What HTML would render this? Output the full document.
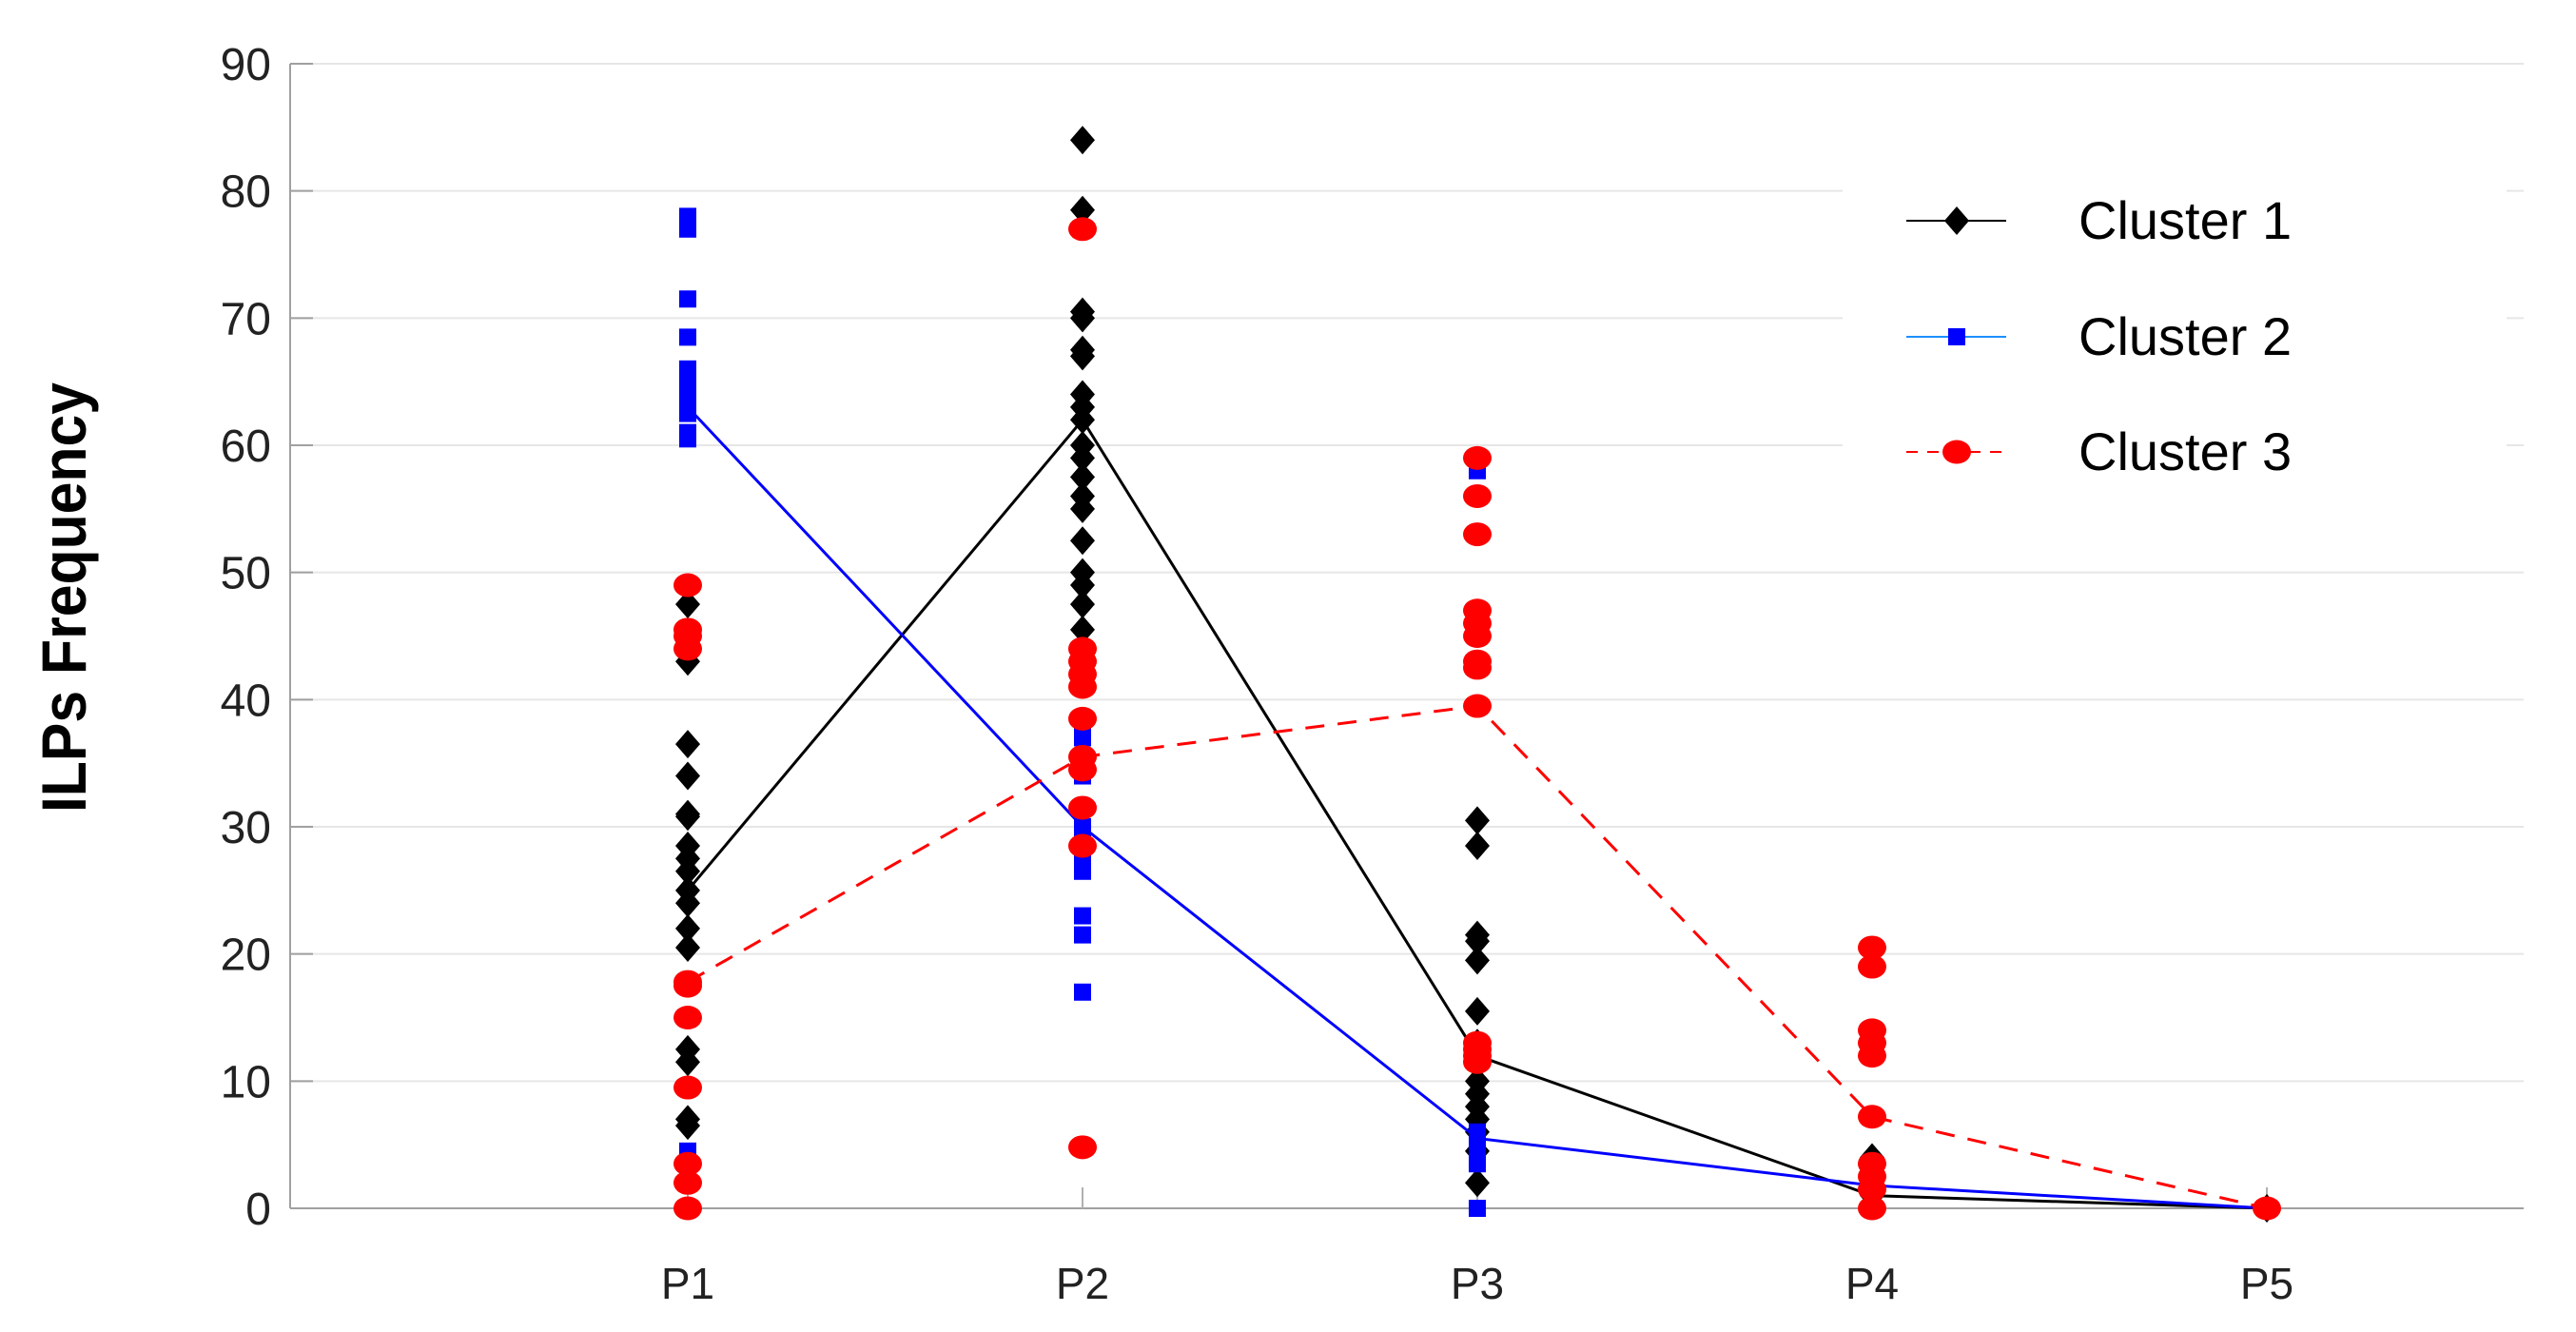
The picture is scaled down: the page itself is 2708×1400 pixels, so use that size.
<!DOCTYPE html>
<html><head><meta charset="utf-8"><style>
html,body{margin:0;padding:0;background:#fff;}
svg{display:block;font-family:"Liberation Sans",sans-serif;}
</style></head><body>
<svg id="chart" width="2708" height="1400" viewBox="0 0 2708 1400" xmlns="http://www.w3.org/2000/svg">
<g id="grid"></g>
<g id="axes"></g>
<g id="series"></g>
<text transform="translate(90,628) rotate(-90) scale(0.92,1)" text-anchor="middle" font-size="66" font-weight="bold" fill="#000">ILPs Frequency</text>
<g id="legend">
<rect x="1937" y="166" width="698" height="375" fill="#fff"/>
</g>
</svg>
<script>
const categories = ["P1","P2","P3","P4","P5"];
const yTicks = [0,10,20,30,40,50,60,70,80,90];
const seriesNames = ["Cluster 1","Cluster 2","Cluster 3"];
const c1Means = [25, 62, 12, 1, 0];
const c2Means = [63, 30, 5.5, 1.8, 0];
const c3Means = [17.8, 35.5, 39.5, 7.2, 0];
const c1P1 = [47.5,44,43,36.5,34,31,30.8,28.5,27.5,26.5,25,24,22,20.5,12.5,11.5,7,6.5];
const c1P2 = [84,78.5,70.5,70,67.5,67,64,63,62,60,59,57.5,56,55,52.5,50,49,47.5,45.5,44,43];
const c1P3 = [30.5,28.5,21.5,21,19.5,15.5,13,10,9,8,7,6,4.5,2];
const c1P4 = [4,1];
const c1P5 = [0];
const c2P1 = [78,77,71.5,68.5,66,65,64,63,62.5,61,60.5,4.5];
const c2P2 = [38,37,35,34,30,29,28,27,26.5,23,21.5,17];
const c2P3 = [58,6,5,4,3.5,0];
const c2P4 = [2,1.5];
const c2P5 = [0];
const c3P1 = [49,45.5,45,44,17.8,17.5,15,9.5,3.5,2,0];
const c3P2 = [77,44,43,42,41,38.5,35.5,34.5,31.5,28.5,4.8];
const c3P3 = [59,56,53,47,46,45,43,42.5,39.5,13,12.5,12,11.5];
const c3P4 = [20.5,19,14,13,12,7.2,3.5,2.5,1.5,0];
const c3P5 = [0];

const NS="http://www.w3.org/2000/svg";
const X0=305, X1=2653, Y0=1270, Y90=67;
function xs(i){return 723 + 415*i;}
function ys(v){return Y0 - (v/90)*(Y0-Y90);}
function mk(tag,attrs,parent){const e=document.createElementNS(NS,tag);for(const k in attrs)e.setAttribute(k,attrs[k]);parent.appendChild(e);return e;}
const grid=document.getElementById('grid'), axes=document.getElementById('axes'), ser=document.getElementById('series'), leg=document.getElementById('legend');

yTicks.forEach(t=>{
  const y=ys(t);
  if(t>0){const g=mk('line',{x1:X0,x2:X1,y1:y,y2:y,stroke:'#e6e6e6','stroke-width':2},grid);
  
  }
  const tk=mk('line',{x1:X0,x2:X0+24,y1:y,y2:y,stroke:'#a0a0a0','stroke-width':2},axes);
  
  
  const lb=mk('text',{x:285,y:y+17,'text-anchor':'end','font-size':48,fill:'#222'},axes);
  lb.textContent=t;
  
  
});
const ya=mk('line',{x1:X0,x2:X0,y1:Y90,y2:Y0,stroke:'#a0a0a0','stroke-width':2},axes);


const xa=mk('line',{x1:X0,x2:X1,y1:Y0,y2:Y0,stroke:'#a0a0a0','stroke-width':2},axes);


categories.forEach((c,i)=>{
  const tk=mk('line',{x1:xs(i),x2:xs(i),y1:Y0,y2:Y0-22,stroke:'#b0b0b0','stroke-width':2},axes);
  
  
  const lb=mk('text',{x:xs(i),y:1365,'text-anchor':'middle','font-size':46,fill:'#222'},axes);
  lb.textContent=c;
  
  
});

function marker(type,x,y,parent){
  let e;
  if(type==='diamond') e=mk('polygon',{points:`${x},${y-15} ${x+13},${y} ${x},${y+15} ${x-13},${y}`,fill:'#000'},parent);
  else if(type==='square') e=mk('rect',{x:x-9,y:y-9,width:18,height:18,fill:'#0000ff'},parent);
  else e=mk('ellipse',{cx:x,cy:y,rx:15,ry:12.5,fill:'#ff0000'},parent);
  return e;
}
const specs=[
  {means:c1Means,pts:[c1P1,c1P2,c1P3,c1P4,c1P5],color:'#000',dash:'',m:'diamond',name:'cluster-1'},
  {means:c2Means,pts:[c2P1,c2P2,c2P3,c2P4,c2P5],color:'#0000ff',dash:'',m:'square',name:'cluster-2'},
  {means:c3Means,pts:[c3P1,c3P2,c3P3,c3P4,c3P5],color:'#ff0000',dash:'20,14',m:'circle',name:'cluster-3'}
];
specs.forEach(s=>{
  const g=mk('g',{},ser);
  
  
  s.pts.forEach((arr,i)=>arr.forEach(v=>{
    const e=marker(s.m,xs(i),ys(v),g);
    
    
  }));
  const p=mk('polyline',{points:s.means.map((v,i)=>xs(i)+','+ys(v)).join(' '),fill:'none',stroke:s.color,'stroke-width':3,'stroke-dasharray':s.dash},g);
  
  
});

const legY=[232,354,475];
const legColors=['#000','#1e90ff','#ff0000'];
specs.forEach((s,k)=>{
  const g=mk('g',{},leg);
  
  
  mk('line',{x1:2004,x2:2109,y1:legY[k],y2:legY[k],stroke:legColors[k],'stroke-width':2,'stroke-dasharray':k===2?'12,10':''},g);
  marker(s.m,2057,legY[k],g);
  const t=mk('text',{x:2185,y:legY[k]+19,'font-size':56,fill:'#000'},g);
  t.textContent=seriesNames[k];
});
</script>
</body></html>
